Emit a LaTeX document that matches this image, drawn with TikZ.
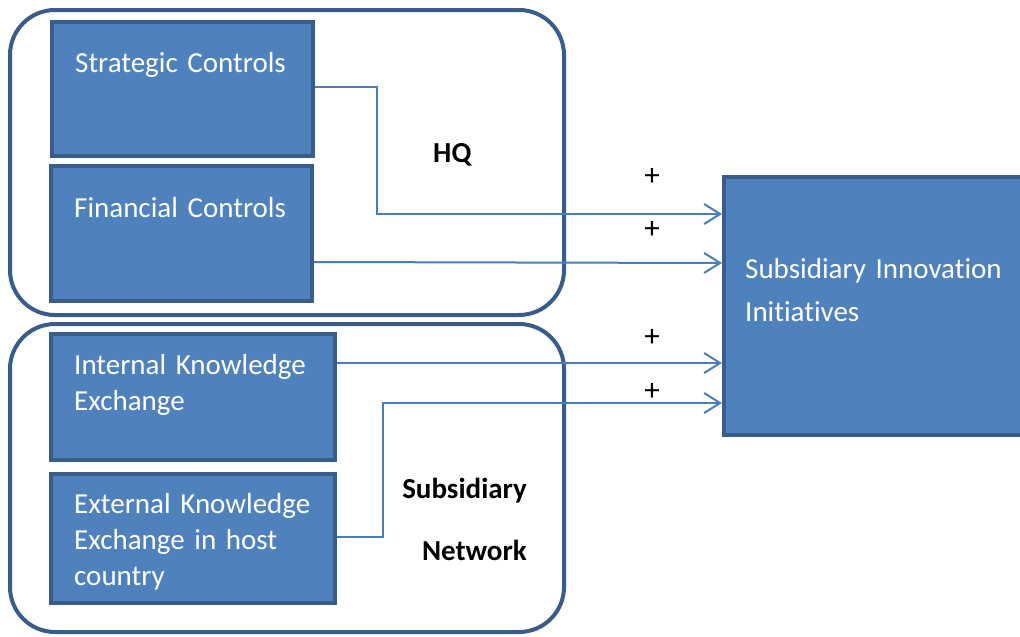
\documentclass[tikz,border=0pt]{standalone}
\usepackage{fontspec}
\setmainfont{Carlito}[Ligatures={NoCommon}]
\usetikzlibrary{arrows.meta}
\definecolor{boxfill}{HTML}{4F81BD}
\definecolor{boxline}{HTML}{385D8A}
\definecolor{connline}{HTML}{4A7EBB}
\tikzset{
  group/.style={draw=boxline, line width=4pt, rounded corners=45pt, minimum width=554pt, anchor=north west},
  unit/.style={draw=boxline, fill=boxfill, line width=4pt, anchor=north west},
  unittext/.style={text=white, anchor=base west, inner sep=0pt, align=left, text width=270pt, font=\fontsize{29}{36}\selectfont},
  tag/.style={font=\bfseries\fontsize{29}{62}\selectfont, inner sep=0pt},
  sign/.style={font=\fontsize{31}{31}\selectfont, inner sep=0pt},
  conn/.style={draw=connline, line width=2pt, -{Straight Barb[length=16pt, width=20pt]}}
}
\begin{document}
\begin{tikzpicture}[x=1pt, y=-1pt]
  \clip (0,0) rectangle (1020,637);
  \node[group, minimum height=305pt] (hq) at (8,8) {};
  \node[group, minimum height=308pt] (subnet) at (8,322) {};
  \node[unit, minimum width=261pt, minimum height=134pt] (sc) at (50,20) {};
  \node[unit, minimum width=261pt, minimum height=135pt] (fc) at (49,164) {};
  \node[unit, minimum width=284pt, minimum height=126pt] (ik) at (49,332) {};
  \node[unit, minimum width=284pt, minimum height=129pt] (ek) at (49,472) {};
  \node[unit, minimum width=320pt, minimum height=258pt] (sii) at (722,175) {};
  \node[unittext] (sc-text) at (75,72) {Strategic Controls};
  \node[unittext] (fc-text) at (74,217) {Financial Controls};
  \node[unittext] (ik-text) at (74,374) {Internal Knowledge\\Exchange};
  \node[unittext] (ek-text) at (74,513) {External Knowledge\\Exchange in host\\country};
  \node[unittext, font=\fontsize{29}{43}\selectfont] (sii-text) at (745,278) {Subsidiary Innovation\\Initiatives};
  \node[tag, anchor=base west] (hq-tag) at (433,162) {HQ};
  \node[tag, anchor=base east, align=right, text width=140pt] (subnet-tag) at (527,498) {Subsidiary\\Network};
  \draw[conn] ([yshift=2pt]sc.east) -- ++(62,0) |- ([yshift=92pt]sii.west);
  \draw[conn] ([yshift=-28.5pt]fc.east) -- ([yshift=43pt]sii.west);
  \draw[conn] ([yshift=34pt]ik.east) -- ([yshift=-57pt]sii.west);
  \draw[conn] ([yshift=1.5pt]ek.east) -- ++(46,0) |- ([yshift=-97pt]sii.west);
  \node[sign] (p1) at (652,177) {+};
  \node[sign] (p2) at (652,230) {+};
  \node[sign] (p3) at (652,338) {+};
  \node[sign] (p4) at (652,392) {+};
\end{tikzpicture}
\end{document}
